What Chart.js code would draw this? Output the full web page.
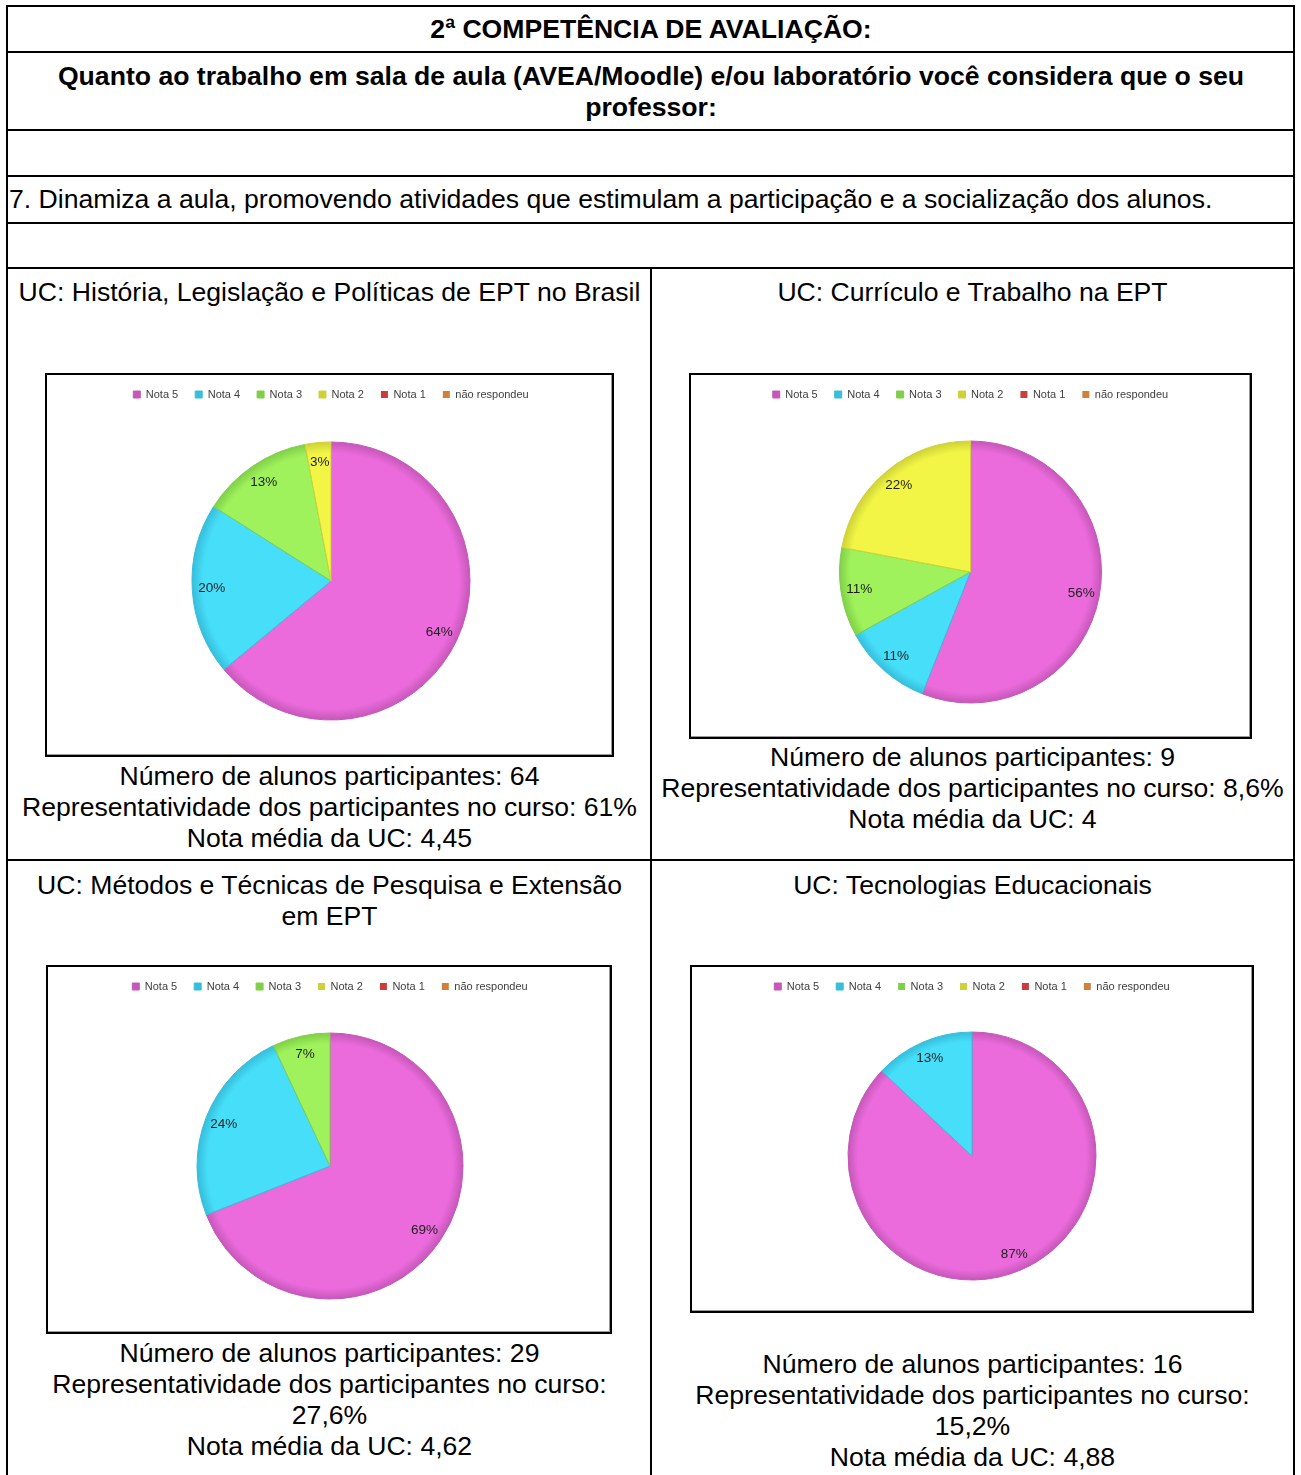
<!DOCTYPE html>
<html lang="pt-BR">
<head>
<meta charset="utf-8">
<title>2ª Competência de Avaliação</title>
<script src="https://cdn.jsdelivr.net/npm/chart.js@4.4.1/dist/chart.umd.min.js"></script>
<style>
  html, body { margin: 0; padding: 0; background: #fff; }
  body { width: 1301px; height: 1475px; position: relative; overflow: hidden;
         font-family: "Liberation Sans", Arial, sans-serif; color: #000; }
  .hline { position: absolute; height: 2px; background: #000; }
  .vline { position: absolute; width: 2px; background: #000; }
  .txt { position: absolute; font-size: 26.6px; line-height: 31px; white-space: nowrap; }
  .center { text-align: center; }
  .bold { font-weight: bold; }
  .frame { position: absolute; border: 2px solid #000; overflow: hidden; background: #fff;
           box-shadow: inset -1px -1px 0 #9a9a9a; }
  .frame canvas { position: absolute; left: 0; top: -3px; }
</style>
</head>
<body>

<!-- table lines -->
<div class="hline" style="left:7px; width:1288px; top:5px;"></div>
<div class="hline" style="left:7px; width:1288px; top:51px;"></div>
<div class="hline" style="left:7px; width:1288px; top:129px;"></div>
<div class="hline" style="left:7px; width:1288px; top:175px;"></div>
<div class="hline" style="left:7px; width:1288px; top:222px;"></div>
<div class="hline" style="left:7px; width:1288px; top:267px;"></div>
<div class="hline" style="left:7px; width:1288px; top:859px;"></div>
<div class="vline" style="left:6px; top:5px; height:1480px;"></div>
<div class="vline" style="left:1293px; top:5px; height:1480px;"></div>
<div class="vline" style="left:650px; top:267px; height:1220px;"></div>

<!-- header texts -->
<div class="txt center bold" style="left:7px; width:1288px; top:14px;">2ª COMPETÊNCIA DE AVALIAÇÃO:</div>
<div class="txt center bold" style="left:7px; width:1288px; top:61px;">Quanto ao trabalho em sala de aula (AVEA/Moodle) e/ou laboratório você considera que o seu<br>professor:</div>
<div class="txt" style="left:9px; top:184px;">7. Dinamiza a aula, promovendo atividades que estimulam a participação e a socialização dos alunos.</div>

<!-- cell titles -->
<div class="txt center" style="left:8px; width:643px; top:277px;">UC: História, Legislação e Políticas de EPT no Brasil</div>
<div class="txt center" style="left:652px; width:641px; top:277px;">UC: Currículo e Trabalho na EPT</div>
<div class="txt center" style="left:8px; width:643px; top:870px;">UC: Métodos e Técnicas de Pesquisa e Extensão<br>em EPT</div>
<div class="txt center" style="left:652px; width:641px; top:870px;">UC: Tecnologias Educacionais</div>

<!-- chart frames -->
<div class="frame" style="left:45px; top:373px; width:565px; height:380px;">
  <canvas id="chartHistoria" width="565" height="383"></canvas>
</div>
<div class="frame" style="left:689px; top:373px; width:559px; height:362px;">
  <canvas id="chartCurriculo" width="559" height="365"></canvas>
</div>
<div class="frame" style="left:46px; top:965px; width:562px; height:365px;">
  <canvas id="chartMetodos" width="562" height="368"></canvas>
</div>
<div class="frame" style="left:690px; top:965px; width:560px; height:344px;">
  <canvas id="chartTecnologias" width="560" height="347"></canvas>
</div>

<!-- cell footers -->
<div class="txt center" style="left:8px; width:643px; top:761px;">Número de alunos participantes: 64<br>Representatividade dos participantes no curso: 61%<br>Nota média da UC: 4,45</div>
<div class="txt center" style="left:652px; width:641px; top:742px;">Número de alunos participantes: 9<br>Representatividade dos participantes no curso: 8,6%<br>Nota média da UC: 4</div>
<div class="txt center" style="left:8px; width:643px; top:1338px;">Número de alunos participantes: 29<br>Representatividade dos participantes no curso:<br>27,6%<br>Nota média da UC: 4,62</div>
<div class="txt center" style="left:652px; width:641px; top:1349px;">Número de alunos participantes: 16<br>Representatividade dos participantes no curso:<br>15,2%<br>Nota média da UC: 4,88</div>

<script>
// categories (legend order) and the percentages shown on each pie
var categories = ['Nota 5', 'Nota 4', 'Nota 3', 'Nota 2', 'Nota 1', 'não respondeu'];
var historiaValues = [64, 20, 13, 3, 0, 0];
var curriculoValues = [56, 11, 11, 22, 0, 0];
var metodosValues = [69, 24, 7, 0, 0, 0];
var tecnologiasValues = [87, 13, 0, 0, 0, 0];

var sliceColors = ['#eb6bdc', '#47def9', '#9ff25b', '#f2f545', '#e84848', '#f29a45'];
var edgeColors = ['#c657b9', '#36bedb', '#80cf48', '#cfd236', '#cc3c3c', '#d0803a'];

// percent text inside each slice, near the rim
var percentLabels = {
  id: 'percentLabels',
  afterDatasetsDraw: function (chart) {
    var ctx = chart.ctx;
    var meta = chart.getDatasetMeta(0);
    var values = chart.data.datasets[0].data;
    ctx.save();
    ctx.font = '13.5px "Liberation Sans", Arial, sans-serif';
    ctx.fillStyle = '#1e1e1e';
    ctx.textAlign = 'center';
    ctx.textBaseline = 'middle';
    meta.data.forEach(function (arc, i) {
      if (!values[i]) return;
      var p = arc.getProps(['x', 'y', 'startAngle', 'endAngle', 'outerRadius'], true);
      var mid = (p.startAngle + p.endAngle) / 2;
      var r = p.outerRadius * 0.86;
      ctx.fillText(values[i] + '%', p.x + Math.cos(mid) * r, p.y + Math.sin(mid) * r);
    });
    ctx.restore();
  }
};

function renderChart(id, data, radius, pad) {
  var ctx = document.getElementById(id).getContext('2d');
  return new Chart(ctx, {
    type: 'pie',
    data: {
      labels: categories,
      datasets: [{
        data: data,
        radius: radius,
        backgroundColor: function (c) {
          var base = sliceColors[c.dataIndex];
          var area = c.chart.chartArea;
          if (!area) return base;
          var cx = (area.left + area.right) / 2;
          var cy = (area.top + area.bottom) / 2;
          var g = c.chart.ctx.createRadialGradient(cx, cy, 0, cx, cy, radius);
          g.addColorStop(0, base);
          g.addColorStop(0.92, base);
          g.addColorStop(1, edgeColors[c.dataIndex]);
          return g;
        },
        borderColor: edgeColors,
        borderWidth: function (c) { return c.raw ? 1 : 0; }
      }]
    },
    options: {
      responsive: false,
      animation: false,
      layout: { padding: pad },
      plugins: {
        tooltip: { enabled: false },
        legend: {
          position: 'top',
          labels: {
            boxWidth: 7,
            boxHeight: 7,
            padding: 17,
            color: '#404040',
            font: { family: '"Liberation Sans", Arial, sans-serif', size: 11 }
          }
        }
      }
    },
    plugins: [percentLabels]
  });
}

renderChart('chartHistoria', historiaValues, 139, { top: 0, bottom: 3, left: 3, right: 0 });
renderChart('chartCurriculo', curriculoValues, 131, { top: 0, bottom: 3, left: 0, right: 0 });
renderChart('chartMetodos', metodosValues, 133, { top: 0, bottom: 2, left: 2, right: 0 });
renderChart('chartTecnologias', tecnologiasValues, 124, { top: 0, bottom: 1, left: 0, right: 0 });
</script>
</body>
</html>
